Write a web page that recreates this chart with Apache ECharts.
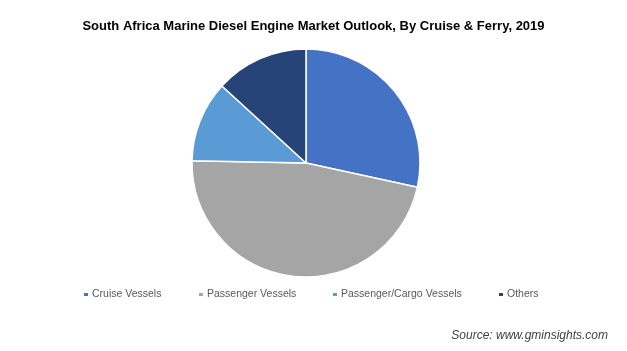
<!DOCTYPE html>
<html><head><meta charset="utf-8">
<script src="https://cdn.jsdelivr.net/npm/echarts@6/dist/echarts.min.js"></script>
<style>html,body{margin:0;padding:0;background:#fff}#c{width:627px;height:351px}</style>
</head><body><div id="c"></div>
<script>
const categories = ["Cruise Vessels", "Passenger Vessels", "Passenger/Cargo Vessels", "Others"];
const values = [28.4, 46.9, 11.5, 13.2];
const colors = ["#4472C4", "#A5A5A5", "#5B9BD5", "#264478"];
const legendLefts = [82, 197, 331, 497];

const chart = echarts.init(document.getElementById('c'));
chart.setOption({
  animation: false,
  backgroundColor: '#ffffff',
  title: [{
    text: 'South Africa Marine Diesel Engine Market Outlook, By Cruise & Ferry, 2019',
    left: 'center', top: 15,
    textStyle: {fontFamily: 'Liberation Sans, Arial', fontSize: 13, fontWeight: 'bold', color: '#000'}
  }, {
    text: 'Source: www.gminsights.com',
    right: 14, top: 325,
    textStyle: {fontFamily: 'Liberation Sans, Arial', fontSize: 12, fontStyle: 'italic', fontWeight: 'normal', color: '#404040'}
  }],
  legend: categories.map((n, i) => ({
    data: [n], left: legendLefts[i], top: 289, padding: 0, icon: 'rect', itemWidth: 6, itemHeight: 5, itemGap: 4,
    textStyle: {fontFamily: 'Liberation Sans, Arial', fontSize: 10.5, color: '#595959', padding: [0,0,0,-2]}
  })),
  series: [{
    type: 'pie',
    center: [306, 163], radius: 114,
    startAngle: 90, clockwise: true,
    label: {show: false}, labelLine: {show: false},
    itemStyle: {borderColor: '#fff', borderWidth: 1.5},
    emphasis: {disabled: true},
    data: categories.map((n, i) => ({name: n, value: values[i], itemStyle: {color: colors[i]}}))
  }]
});
</script></body></html>
